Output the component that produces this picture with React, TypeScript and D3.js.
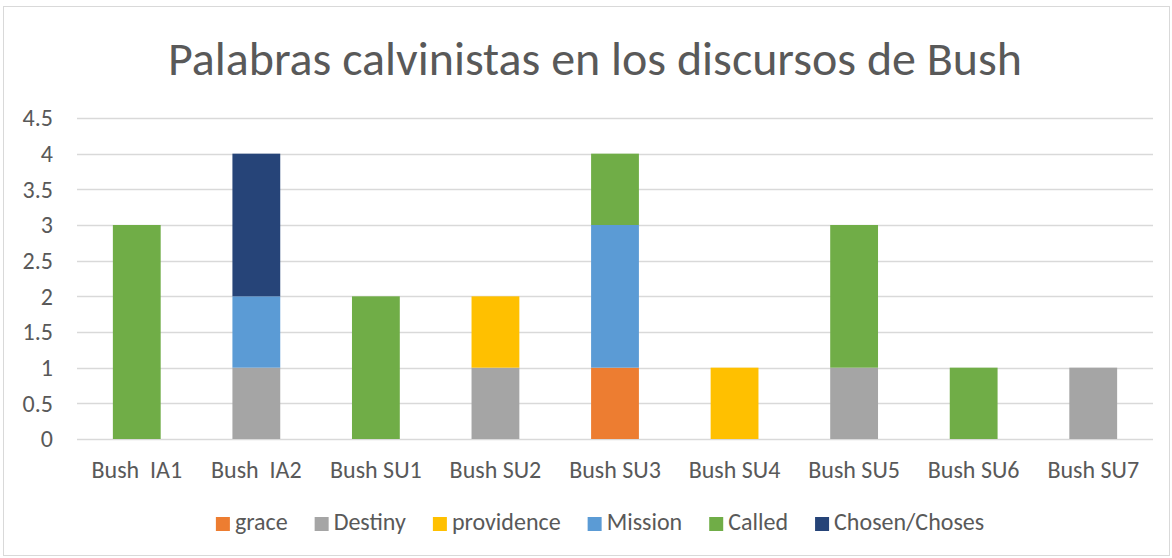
import React, { useEffect, useRef } from "react";
import * as d3 from "d3";

const categories = ["Bush  IA1", "Bush  IA2", "Bush SU1", "Bush SU2", "Bush SU3", "Bush SU4", "Bush SU5", "Bush SU6", "Bush SU7"];
const seriesNames = ["grace", "Destiny", "providence", "Mission", "Called", "Chosen/Choses"];
const seriesColors = ["#ED7D31", "#A5A5A5", "#FFC000", "#5B9BD5", "#70AD47", "#264478"];
const grace = [0, 0, 0, 0, 1, 0, 0, 0, 0];
const destiny = [0, 1, 0, 1, 0, 0, 1, 0, 1];
const providence = [0, 0, 0, 1, 0, 1, 0, 0, 0];
const mission = [0, 1, 0, 0, 2, 0, 0, 0, 0];
const called = [3, 0, 2, 0, 1, 0, 2, 1, 0];
const chosen = [0, 2, 0, 0, 0, 0, 0, 0, 0];
const yTicks = [0, 0.5, 1, 1.5, 2, 2.5, 3, 3.5, 4, 4.5];
const title = "Palabras calvinistas en los discursos de Bush";

const W = 1172;
const H = 558;
const FONT = "Carlito, Calibri, 'Liberation Sans', sans-serif";

const App = () => {
  const svgRef = useRef<SVGSVGElement>(null);

  useEffect(() => {
    const svg = d3.select(svgRef.current);
    svg.selectAll("*").remove();

    const margin = { top: 118, right: 19, bottom: 119, left: 77 };
    const innerW = W - margin.left - margin.right;
    const innerH = H - margin.top - margin.bottom;

    // chart border
    svg.append("rect")
      .attr("x", 3.5).attr("y", 6.5)
      .attr("width", W - 6).attr("height", H - 9)
      .attr("fill", "#fff").attr("stroke", "#d9d9d9");

    svg.append("text")
      .attr("x", 595).attr("y", 75)
      .attr("text-anchor", "middle")
      .attr("font-family", FONT).attr("font-size", 48)
      .attr("fill", "#595959")
      .attr("textLength", 854).attr("lengthAdjust", "spacingAndGlyphs")
      .text(title);

    const g = svg.append("g").attr("transform", `translate(${margin.left},${margin.top})`);

    const x = d3.scaleBand().domain(categories).range([0, innerW]).paddingInner(0.6).paddingOuter(0.3);
    const y = d3.scaleLinear().domain([0, 4.5]).range([innerH, 0]);

    g.selectAll(".grid").data(yTicks).enter().append("line")
      .attr("x1", 0).attr("x2", innerW)
      .attr("y1", (d) => Math.round(y(d)) + 0.5).attr("y2", (d) => Math.round(y(d)) + 0.5)
      .attr("stroke", "#d9d9d9").attr("stroke-width", 1.5);

    g.selectAll(".ytick").data(yTicks).enter().append("text")
      .attr("x", -24).attr("y", (d) => y(d))
      .attr("dy", "0.35em").attr("text-anchor", "end")
      .attr("font-family", FONT).attr("font-size", 24).attr("fill", "#595959")
      .text((d) => String(d));

    const rows = categories.map((c, i) => ({
      cat: c,
      grace: grace[i], Destiny: destiny[i], providence: providence[i],
      Mission: mission[i], Called: called[i], "Chosen/Choses": chosen[i],
    }));
    const stacked = d3.stack<any>().keys(seriesNames)(rows);
    const color = d3.scaleOrdinal<string>().domain(seriesNames).range(seriesColors);

    g.selectAll(".layer").data(stacked).enter().append("g")
      .attr("fill", (d) => color(d.key))
      .selectAll("rect").data((d) => d.filter((p) => p[1] - p[0] > 0)).enter().append("rect")
      .attr("x", (d: any) => x(d.data.cat)!)
      .attr("width", x.bandwidth())
      .attr("y", (d) => y(d[1]))
      .attr("height", (d) => y(d[0]) - y(d[1]));

    g.selectAll(".xlab").data(categories).enter().append("text")
      .attr("x", (d) => x(d)! + x.bandwidth() / 2).attr("y", innerH + 39)
      .attr("text-anchor", "middle").attr("xml:space", "preserve")
      .style("white-space", "pre")
      .attr("font-family", FONT).attr("font-size", 24).attr("fill", "#595959")
      .text((d) => d);

    // legend
    const legend = svg.append("g");
    let lx = 0;
    seriesNames.forEach((name) => {
      const item = legend.append("g").attr("transform", `translate(${lx},0)`);
      item.append("rect").attr("x", 0).attr("y", 517).attr("width", 14).attr("height", 14).attr("fill", color(name));
      const t = item.append("text").attr("x", 19).attr("y", 530)
        .attr("font-family", FONT).attr("font-size", 24).attr("fill", "#595959").text(name);
      const tw = (t.node() as SVGTextElement).getComputedTextLength();
      lx += 19 + tw + 27;
    });
    const total = lx - 27;
    legend.attr("transform", `translate(${600 - total / 2},0)`);
  }, []);

  return <svg ref={svgRef} width={W} height={H} style={{ display: "block", position: "absolute", left: 0, top: 0 }} />;
};

export default App;
